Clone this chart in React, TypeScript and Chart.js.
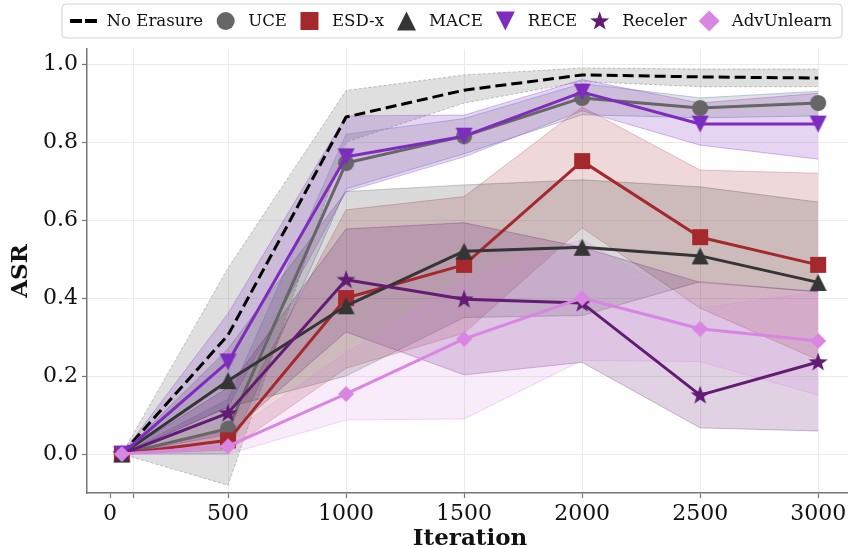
import React, { useEffect, useRef } from 'react';
import { Chart, registerables } from 'chart.js';

Chart.register(...registerables);

// ---------------- data ----------------
const ITERATIONS = [50, 500, 1000, 1500, 2000, 2500, 3000];
const X_TICKS = [0, 100, 500, 1000, 1500, 2000, 2500, 3000];
const Y_TICKS = [0, 0.2, 0.4, 0.6, 0.8, 1.0];

const NO_ERASURE = [0.0, 0.305, 0.864, 0.933, 0.972, 0.967, 0.964];
const NO_ERASURE_LO = [0.0, -0.08, 0.8, 0.9, 0.955, 0.942, 0.942];
const NO_ERASURE_HI = [0.0, 0.477, 0.932, 0.972, 0.99, 0.987, 0.987];

const UCE = [0.0, 0.065, 0.746, 0.815, 0.913, 0.887, 0.9];
const UCE_LO = [0.0, 0.0, 0.68, 0.77, 0.87, 0.862, 0.867];
const UCE_HI = [0.0, 0.14, 0.82, 0.86, 0.95, 0.913, 0.93];

const ESD_X = [0.0, 0.035, 0.4, 0.485, 0.751, 0.556, 0.485];
const ESD_X_LO = [0.0, 0.01, 0.22, 0.31, 0.58, 0.374, 0.241];
const ESD_X_HI = [0.0, 0.06, 0.626, 0.66, 0.89, 0.728, 0.72];

const MACE = [0.0, 0.188, 0.38, 0.52, 0.53, 0.508, 0.44];
const MACE_LO = [0.0, 0.12, 0.2, 0.35, 0.355, 0.442, 0.416];
const MACE_HI = [0.0, 0.27, 0.673, 0.69, 0.703, 0.685, 0.646];

const RECE = [0.0, 0.236, 0.762, 0.815, 0.928, 0.846, 0.846];
const RECE_LO = [0.0, 0.12, 0.673, 0.762, 0.88, 0.792, 0.756];
const RECE_HI = [0.0, 0.36, 0.867, 0.869, 0.96, 0.9, 0.925];

const RECELER = [0.0, 0.105, 0.447, 0.397, 0.387, 0.151, 0.236];
const RECELER_LO = [0.0, 0.05, 0.313, 0.203, 0.235, 0.067, 0.059];
const RECELER_HI = [0.0, 0.17, 0.577, 0.593, 0.53, 0.44, 0.416];

const ADV_UNLEARN = [0.0, 0.02, 0.154, 0.295, 0.4, 0.321, 0.29];
const ADV_UNLEARN_LO = [0.0, 0.0, 0.087, 0.09, 0.24, 0.237, 0.151];
const ADV_UNLEARN_HI = [0.0, 0.05, 0.26, 0.45, 0.55, 0.374, 0.416];

type Shape = 'circle' | 'square' | 'triUp' | 'triDown' | 'star' | 'diamond' | null;

const SERIES: {
  label: string; values: number[]; lo: number[]; hi: number[];
  color: string; band: string; edge: string; marker: Shape; size: number; legendSize: number;
  dash?: number[]; bandDash?: number[];
}[] = [
  { label: 'No Erasure', values: NO_ERASURE, lo: NO_ERASURE_LO, hi: NO_ERASURE_HI, color: '#000000',
    band: 'rgba(128,128,128,0.25)', edge: 'rgba(110,110,110,0.4)', marker: null, size: 0, legendSize: 0, dash: [11, 5], bandDash: [3, 2] },
  { label: 'UCE', values: UCE, lo: UCE_LO, hi: UCE_HI, color: '#666666',
    band: 'rgba(105,105,105,0.2)', edge: 'rgba(120,160,220,0.55)', marker: 'circle', size: 16, legendSize: 18 },
  { label: 'ESD-x', values: ESD_X, lo: ESD_X_LO, hi: ESD_X_HI, color: '#A4282C',
    band: 'rgba(166,41,46,0.18)', edge: 'rgba(166,41,46,0.25)', marker: 'square', size: 16, legendSize: 18 },
  { label: 'MACE', values: MACE, lo: MACE_LO, hi: MACE_HI, color: '#353535',
    band: 'rgba(51,51,51,0.18)', edge: 'rgba(51,51,51,0.25)', marker: 'triUp', size: 17, legendSize: 19 },
  { label: 'RECE', values: RECE, lo: RECE_LO, hi: RECE_HI, color: '#7E2CBE',
    band: 'rgba(126,44,190,0.2)', edge: 'rgba(126,44,190,0.3)', marker: 'triDown', size: 17, legendSize: 19 },
  { label: 'Receler', values: RECELER, lo: RECELER_LO, hi: RECELER_HI, color: '#621C74',
    band: 'rgba(98,28,116,0.2)', edge: 'rgba(98,28,116,0.3)', marker: 'star', size: 20, legendSize: 20 },
  { label: 'AdvUnlearn', values: ADV_UNLEARN, lo: ADV_UNLEARN_LO, hi: ADV_UNLEARN_HI, color: '#D886E2',
    band: 'rgba(216,134,226,0.17)', edge: 'rgba(216,134,226,0.3)', marker: 'diamond', size: 16, legendSize: 21 },
];

// ---------------- markers ----------------
function drawMarker(ctx: CanvasRenderingContext2D, shape: Shape, x: number, y: number, s: number, color: string) {
  const h = s / 2;
  ctx.fillStyle = color;
  ctx.beginPath();
  switch (shape) {
    case 'circle':
      ctx.arc(x, y, h, 0, Math.PI * 2);
      break;
    case 'square':
      ctx.rect(x - h, y - h, s, s);
      break;
    case 'triUp':
      ctx.moveTo(x, y - h);
      ctx.lineTo(x + h, y + h);
      ctx.lineTo(x - h, y + h);
      break;
    case 'triDown':
      ctx.moveTo(x, y + h);
      ctx.lineTo(x + h, y - h);
      ctx.lineTo(x - h, y - h);
      break;
    case 'star':
      for (let i = 0; i < 10; i++) {
        const r = i % 2 === 0 ? h : h * 0.4;
        const a = -Math.PI / 2 + (i * Math.PI) / 5;
        ctx.lineTo(x + r * Math.cos(a), y + r * Math.sin(a) + h * 0.05);
      }
      break;
    case 'diamond':
      ctx.moveTo(x, y - h);
      ctx.lineTo(x + h, y);
      ctx.lineTo(x, y + h);
      ctx.lineTo(x - h, y);
      break;
    default:
      return;
  }
  ctx.closePath();
  ctx.fill();
}

function markerCanvas(shape: Shape, s: number, color: string) {
  const c = document.createElement('canvas');
  const size = Math.ceil(s) + 2;
  c.width = size;
  c.height = size;
  const ctx = c.getContext('2d')!;
  drawMarker(ctx, shape, size / 2, size / 2, s, color);
  return c;
}

// ---------------- legend ----------------
const FONT = '"DejaVu Serif", "Liberation Serif", serif';

const legendPlugin = {
  id: 'boxLegend',
  afterDraw(chart: any) {
    const ctx: CanvasRenderingContext2D = chart.ctx;
    ctx.save();
    ctx.font = `16.6px ${FONT}`;
    const handleW = 28;
    const gap = 8.5;
    let total = 0;
    SERIES.forEach((s, i) => {
      total += handleW + gap + ctx.measureText(s.label).width + (i < SERIES.length - 1 ? gap : 0);
    });
    const fx = 62;
    const fy = 4;
    const fh = 34;
    const fw = total + 8 + 10;
    const r = 4;
    ctx.beginPath();
    ctx.moveTo(fx + r, fy);
    ctx.lineTo(fx + fw - r, fy);
    ctx.arcTo(fx + fw, fy, fx + fw, fy + r, r);
    ctx.lineTo(fx + fw, fy + fh - r);
    ctx.arcTo(fx + fw, fy + fh, fx + fw - r, fy + fh, r);
    ctx.lineTo(fx + r, fy + fh);
    ctx.arcTo(fx, fy + fh, fx, fy + fh - r, r);
    ctx.lineTo(fx, fy + r);
    ctx.arcTo(fx, fy, fx + r, fy, r);
    ctx.closePath();
    ctx.fillStyle = 'rgba(255,255,255,0.85)';
    ctx.fill();
    ctx.strokeStyle = '#d2d2d2';
    ctx.lineWidth = 1;
    ctx.stroke();

    const cy = 21;
    let x = fx + 8;
    ctx.textBaseline = 'middle';
    ctx.textAlign = 'left';
    SERIES.forEach((s) => {
      if (s.marker) {
        drawMarker(ctx, s.marker, x + handleW / 2, cy, s.legendSize, s.color);
      } else {
        ctx.beginPath();
        ctx.setLineDash([12, 3]);
        ctx.strokeStyle = s.color;
        ctx.lineWidth = 4;
        ctx.moveTo(x, cy);
        ctx.lineTo(x + handleW, cy);
        ctx.stroke();
        ctx.setLineDash([]);
      }
      x += handleW + gap;
      ctx.fillStyle = '#111111';
      ctx.fillText(s.label, x, cy + 1);
      x += ctx.measureText(s.label).width + gap;
    });
    ctx.restore();
  },
};

// ---------------- component ----------------
export default function App() {
  const ref = useRef<HTMLCanvasElement | null>(null);

  useEffect(() => {
    if (!ref.current) return;
    const datasets: any[] = [];
    SERIES.forEach((s, i) => {
      datasets.push({
        label: s.label + ' lower',
        data: ITERATIONS.map((x, j) => ({ x, y: s.lo[j] })),
        borderColor: s.edge,
        borderWidth: 1,
        borderDash: s.bandDash || [],
        pointRadius: 0,
        fill: false,
        order: 200 - i * 2,
      });
      datasets.push({
        label: s.label + ' upper',
        data: ITERATIONS.map((x, j) => ({ x, y: s.hi[j] })),
        borderColor: s.edge,
        borderWidth: 1,
        borderDash: s.bandDash || [],
        pointRadius: 0,
        fill: '-1',
        backgroundColor: s.band,
        order: 200 - i * 2 - 1,
      });
    });
    SERIES.forEach((s, i) => {
      datasets.push({
        label: s.label,
        data: ITERATIONS.map((x, j) => ({ x, y: s.values[j] })),
        borderColor: s.color,
        borderWidth: 3,
        borderDash: s.dash || [],
        borderJoinStyle: 'round',
        pointStyle: s.marker ? markerCanvas(s.marker, s.size, s.color) : false,
        pointRadius: s.marker ? 8 : 0,
        fill: false,
        tension: 0,
        order: 50 - i,
      });
    });

    const chart = new Chart(ref.current, {
      type: 'line',
      data: { datasets },
      plugins: [legendPlugin],
      options: {
        animation: false,
        responsive: false,
        events: [],
        layout: { autoPadding: false, padding: { top: 49, left: 0, right: 0, bottom: 0 } },
        plugins: { legend: { display: false }, tooltip: { enabled: false } },
        scales: {
          x: {
            type: 'linear',
            min: -97.5,
            max: 3147.5,
            afterBuildTicks: (sc: any) => {
              sc.ticks = X_TICKS.map((v) => ({ value: v }));
            },
            afterFit: (sc: any) => {
              sc.height = 55;
              sc.paddingLeft = 0;
              sc.paddingRight = 0;
            },
            ticks: {
              callback: (v: any) => (v === 100 ? '' : String(v)),
              font: { family: FONT, size: 22 },
              color: '#111111',
              padding: 3,
              maxRotation: 0,
              autoSkip: false,
            },
            grid: {
              color: (c: any) => (c.tick && c.tick.value === 0 ? 'rgba(0,0,0,0)' : '#ebebeb'),
              lineWidth: 1,
              tickLength: 5,
              tickColor: '#777777',
              tickWidth: 1.2,
            },
            border: { color: '#777777', width: 1.5 },
            title: {
              display: true,
              text: 'Iteration',
              font: { family: FONT, size: 23, weight: 'bold', lineHeight: 1 },
              color: '#111111',
              padding: { top: 0, bottom: -3 },
            },
          },
          y: {
            type: 'linear',
            min: -0.1,
            max: 1.0385,
            afterBuildTicks: (sc: any) => {
              sc.ticks = Y_TICKS.map((v) => ({ value: v }));
            },
            afterFit: (sc: any) => {
              sc.width = 87;
              sc.paddingTop = 0;
              sc.paddingBottom = 0;
            },
            ticks: {
              callback: (v: any) => Number(v).toFixed(1),
              font: { family: FONT, size: 22 },
              color: '#111111',
              padding: 4,
              autoSkip: false,
            },
            grid: {
              color: '#ebebeb',
              lineWidth: 1,
              tickLength: 5,
              tickColor: '#777777',
              tickWidth: 1.2,
            },
            border: { color: '#777777', width: 1.5 },
            title: {
              display: true,
              text: 'ASR',
              font: { family: FONT, size: 23, weight: 'bold', lineHeight: 1 },
              color: '#111111',
              padding: { top: 10, bottom: 0 },
            },
          },
        },
      } as any,
    });
    return () => chart.destroy();
  }, []);

  return (
    <div style={{ position: 'fixed', left: 0, top: 0, width: 848, height: 548, overflow: 'hidden', background: '#ffffff' }}>
      <canvas ref={ref} width={853} height={548} style={{ display: 'block' }} />
    </div>
  );
}
